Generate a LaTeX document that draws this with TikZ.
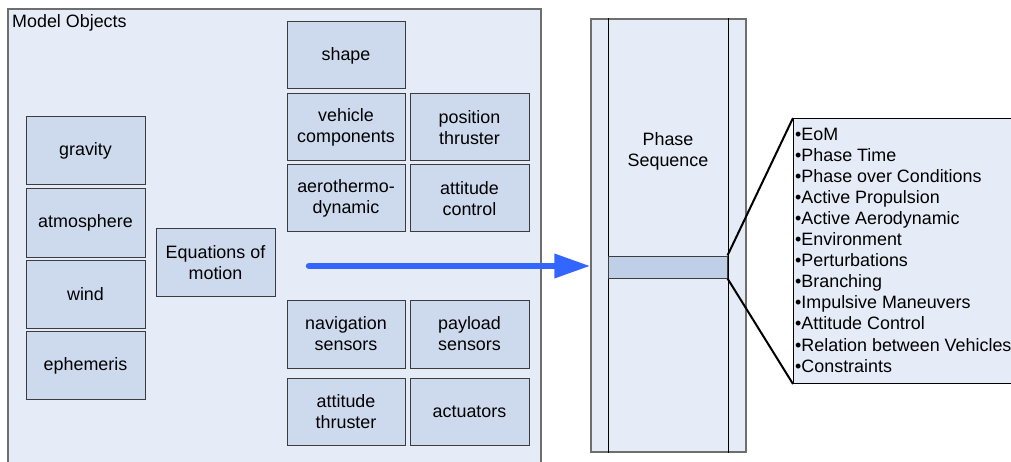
\documentclass[tikz,border=0pt]{standalone}
\usepackage{fontspec}
\setmainfont{Liberation Sans}
\usetikzlibrary{arrows.meta}
\definecolor{outerfill}{RGB}{230,236,247}
\definecolor{boxfill}{RGB}{205,218,238}
\definecolor{hlfill}{RGB}{191,207,232}
\definecolor{boxline}{RGB}{60,60,60}
\definecolor{outerline}{RGB}{110,110,110}
\definecolor{arrowblue}{RGB}{51,102,255}
\tikzset{
  objbox/.style={draw=boxline, fill=boxfill, line width=1pt, inner sep=0pt,
    minimum width=119pt, minimum height=68pt, align=center,
    font=\fontsize{17.9}{21.1}\selectfont},
  lbl/.style={inner sep=0pt, font=\fontsize{17.9}{21.1}\selectfont},
}
\begin{document}
\begin{tikzpicture}[x=1pt,y=-1pt]
\useasboundingbox[fill=white] (0,0) rectangle (1011,462);
% Model objects container
\draw[draw=outerline, fill=outerfill, line width=1.2pt] (8,9) rectangle (541,475);
\node[lbl, anchor=base west] (mo) at (12,28) {Model Objects};
% left column
\node[objbox] (gravity) at (85.5,151) {gravity};
\node[objbox] (atmo) at (85.5,223) {atmosphere};
\node[objbox] (wind) at (85.5,294) {wind};
\node[objbox] (ephem) at (85.5,365.5) {ephemeris};
\node[objbox, minimum height=67pt] (eom) at (215.5,262.5) {Equations of\\motion};
% right group
\node[objbox, minimum width=118pt, minimum height=67pt] (shape) at (346,55.5) {shape};
\node[objbox, minimum width=118pt, minimum height=67pt] (veh) at (346,127.5) {vehicle\\components};
\node[objbox, minimum height=67pt] (posthr) at (469.5,127.5) {position\\thruster};
\node[objbox, minimum width=118pt, minimum height=67pt] (aero) at (346,198.5) {aerothermo-\\dynamic};
\node[objbox, minimum height=67pt] (attctl) at (469.5,198.5) {attitude\\control};
\node[objbox, minimum width=118pt] (nav) at (346,334) {navigation\\sensors};
\node[objbox] (pay) at (469.5,334) {payload\\sensors};
\node[objbox, minimum width=118pt, minimum height=67pt] (attthr) at (346,411.5) {attitude\\thruster};
\node[objbox, minimum height=67pt] (act) at (469.5,411.5) {actuators};
% phase column
\node[draw=outerline, fill=outerfill, line width=1.2pt, minimum width=155pt, minimum height=433pt, inner sep=0pt] (phase) at (668.5,235.5) {};
\draw[black, line width=1pt] ([xshift=18pt]phase.north west) -- ([xshift=18pt]phase.south west);
\draw[black, line width=1pt] ([xshift=-18pt]phase.north east) -- ([xshift=-18pt]phase.south east);
\node[lbl, align=center] (phtext) at (668,151) {Phase\\Sequence};
\node[draw=boxline, fill=hlfill, line width=1pt, minimum width=119pt, minimum height=22pt, inner sep=0pt] (hl) at (667.5,267) {};
% arrow
\coordinate (astart) at (309,266);
\draw[arrowblue, line width=6.5pt, line cap=round, -{Triangle[length=36pt, width=23pt]}] (astart) -- (astart -| phase.west);
% list box
\node[draw=black, fill=outerfill, line width=1pt, minimum width=250pt, minimum height=265pt, inner sep=0pt, anchor=north west] (list) at (793,118) {};
\draw[black, line width=2pt] (hl.north east) -- (list.north west);
\draw[black, line width=2pt] (hl.south east) -- (list.south west);
\node[lbl, align=left, anchor=north west] (items) at (795,127.5) {%
\textbullet EoM\\
\textbullet Phase Time\\
\textbullet Phase over Conditions\\
\textbullet Active Propulsion\\
\textbullet Active Aerodynamic\\
\textbullet Environment\\
\textbullet Perturbations\\
\textbullet Branching\\
\textbullet Impulsive Maneuvers\\
\textbullet Attitude Control\\
\textbullet Relation between Vehicles\\
\textbullet Constraints};
\end{tikzpicture}
\end{document}
